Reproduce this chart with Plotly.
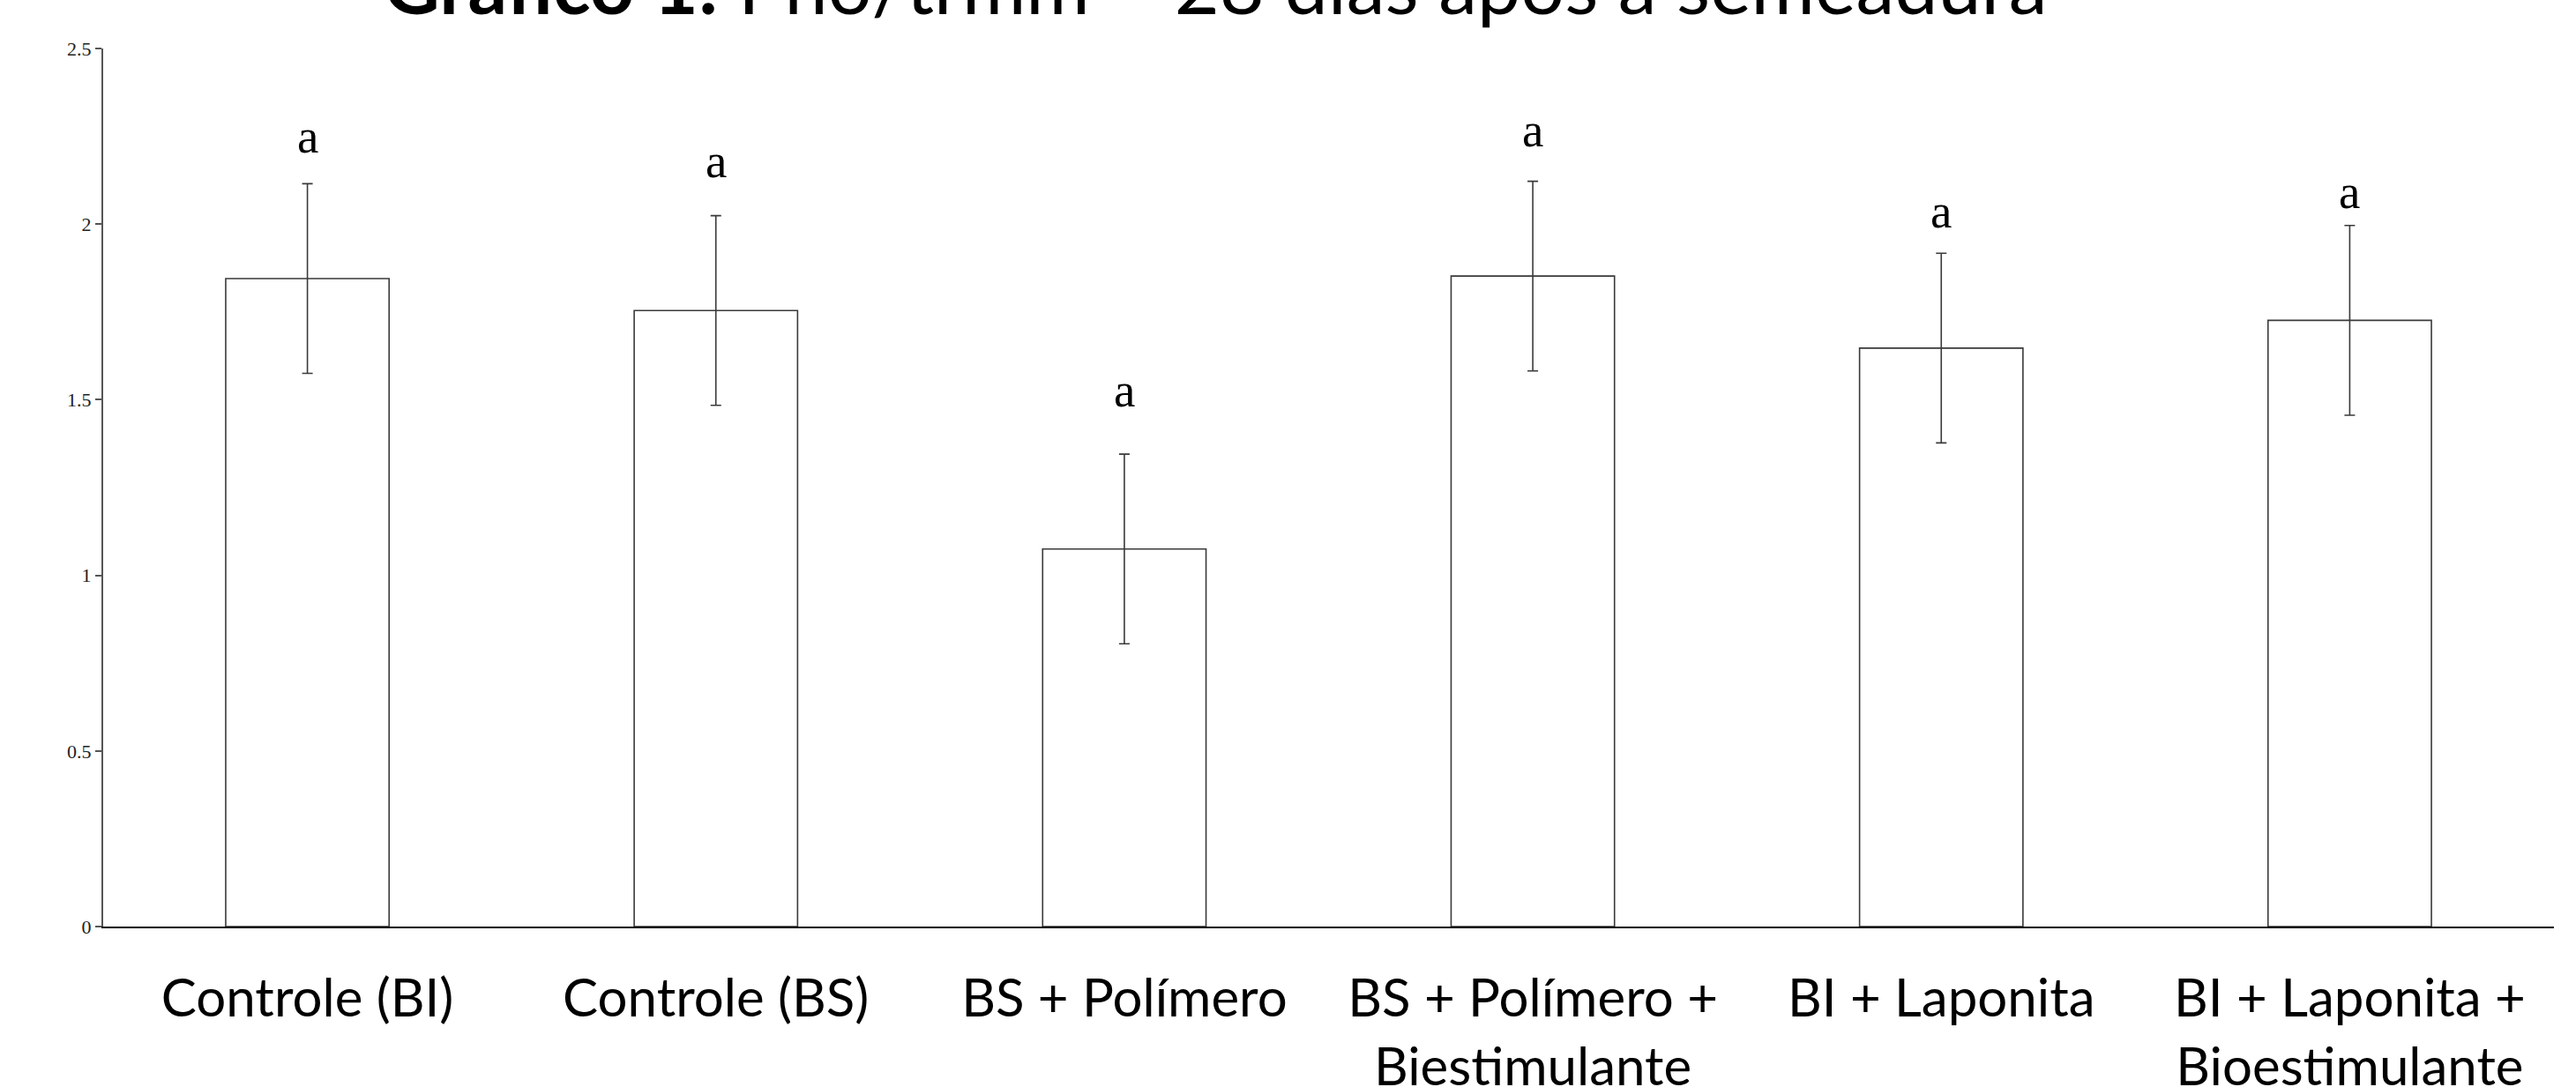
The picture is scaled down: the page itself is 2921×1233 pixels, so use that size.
import plotly.graph_objects as go

categories = ["Controle (BI)", "Controle (BS)", "BS + Polímero",
              "BS + Polímero +<br>Biestimulante", "BI + Laponita",
              "BI + Laponita +<br>Bioestimulante"]
means = [1.845, 1.754, 1.075, 1.852, 1.647, 1.726]
errors = [0.27, 0.27, 0.27, 0.27, 0.27, 0.27]
letters = ["a", "a", "a", "a", "a", "a"]
letter_y = [2.234, 2.166, 1.513, 2.254, 2.021, 2.076]
y_ticks = [0, 0.5, 1, 1.5, 2, 2.5]
y_ticktext = ["0", "0.5", "1", "1.5", "2", "2.5"]
title_text = "<b>Gráfico 1:</b> Pho/trmm – 28 dias após a semeadura"

W, H = 2921, 1233
L, R, T, B = 117, 25, 55, 182

fig = go.Figure()
fig.add_trace(go.Bar(
    x=categories, y=means,
    marker=dict(color="white", line=dict(color="#3a3a3a", width=1.6)),
    error_y=dict(type="data", array=errors, visible=True,
                 color="#3a3a3a", thickness=1.6, width=6),
    showlegend=False,
))

for c, t, ly in zip(categories, letters, letter_y):
    fig.add_annotation(x=c, y=ly, text=t, showarrow=False,
                       xref="x", yref="y", yanchor="middle", yshift=6,
                       font=dict(family="Liberation Serif", size=55, color="black"))

plot_w = W - L - R
plot_h = H - T - B
title_cx = (1378 - L) / plot_w
title_cy = 1 + (T - (-18)) / plot_h
fig.add_annotation(x=title_cx, y=title_cy, xref="paper", yref="paper",
                   text=title_text, showarrow=False,
                   xanchor="center", yanchor="middle",
                   font=dict(family="Lato", size=88, color="black"))

fig.update_layout(
    width=W, height=H,
    margin=dict(l=L, r=R, t=T, b=B, pad=0),
    plot_bgcolor="white", paper_bgcolor="white",
    bargap=0.6,
    xaxis=dict(
        showline=True, linecolor="black", linewidth=2,
        ticks="", showgrid=False, zeroline=False, automargin=False,
        tickfont=dict(family="Lato", size=60, color="black"),
        ticklabelstandoff=28,
    ),
    yaxis=dict(
        range=[0, 2.5], tickvals=y_ticks, ticktext=y_ticktext,
        showline=True, linecolor="#555555", linewidth=2,
        ticks="outside", ticklen=7, tickcolor="#555555", tickwidth=1.5,
        showgrid=False, zeroline=False, automargin=False,
        tickfont=dict(family="Liberation Serif", size=22, color="#222222"),
    ),
)

fig.write_html("out.html", config={"displayModeBar": False},
               post_script="document.body.style.margin='0';document.body.style.overflow='hidden';")
